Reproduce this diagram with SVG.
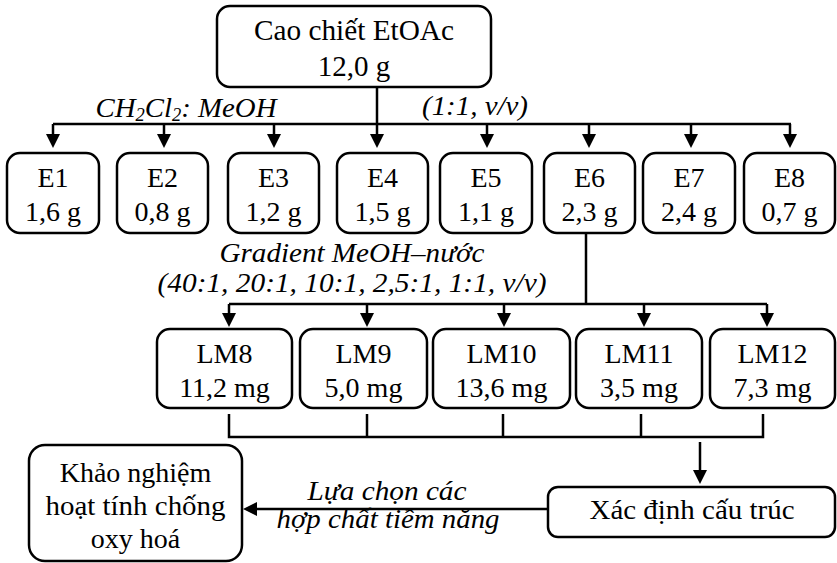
<svg xmlns="http://www.w3.org/2000/svg" width="837" height="563" viewBox="0 0 837 563" font-family="Liberation Serif, Times New Roman, serif">
<style>
.box{fill:#fff;stroke:#000;stroke-width:2.5}
text{font-family:Liberation Serif, serif}
.t{font-size:28px;fill:#000;text-anchor:middle}
.i{font-size:28px;font-style:italic;fill:#000;text-anchor:middle}
.ln{fill:none;stroke:#000;stroke-width:2.5}
</style>
<defs>
<marker id="ah" viewBox="0 0 14 14" refX="10" refY="7" markerWidth="14" markerHeight="14" markerUnits="userSpaceOnUse" orient="auto">
<path d="M0,0 L14,7 L0,14 z" fill="#000"/>
</marker>
</defs>
<g id="connectors">
<path class="ln" d="M377,87 V144" marker-end="url(#ah)"/>
<path class="ln" d="M53,124 H791"/>
<path class="ln" d="M53,124 V144" marker-end="url(#ah)"/>
<path class="ln" d="M164,124 V144" marker-end="url(#ah)"/>
<path class="ln" d="M274,124 V144" marker-end="url(#ah)"/>
<path class="ln" d="M487,124 V144" marker-end="url(#ah)"/>
<path class="ln" d="M589,124 V144" marker-end="url(#ah)"/>
<path class="ln" d="M691,124 V144" marker-end="url(#ah)"/>
<path class="ln" d="M790,124 V144" marker-end="url(#ah)"/>
<path class="ln" d="M586,233 V304"/>
<path class="ln" d="M229,304 H767"/>
<path class="ln" d="M229,304 V323" marker-end="url(#ah)"/>
<path class="ln" d="M367,304 V323" marker-end="url(#ah)"/>
<path class="ln" d="M504,304 V323" marker-end="url(#ah)"/>
<path class="ln" d="M644,304 V323" marker-end="url(#ah)"/>
<path class="ln" d="M767,304 V323" marker-end="url(#ah)"/>
<path class="ln" d="M229,414 V437 H763 V414 M367,414 V437 M503,414 V437 M641,414 V437"/>
<path class="ln" d="M700,442 V480" marker-end="url(#ah)"/>
<path class="ln" d="M548,509 H247" marker-end="url(#ah)"/>
<text class="i" x="186" y="117" textLength="181" lengthAdjust="spacingAndGlyphs">CH<tspan font-size="18" dy="4">2</tspan><tspan dy="-4">Cl</tspan><tspan font-size="18" dy="4">2</tspan><tspan dy="-4">: MeOH</tspan></text>
<text class="i" x="475" y="115" textLength="106" lengthAdjust="spacingAndGlyphs">(1:1, v/v)</text>
<text class="i" x="352" y="262" textLength="265" lengthAdjust="spacingAndGlyphs">Gradient MeOH–nước</text>
<text class="i" x="352" y="292" textLength="389" lengthAdjust="spacingAndGlyphs">(40:1, 20:1, 10:1, 2,5:1, 1:1, v/v)</text>
<text class="i" x="387" y="500" textLength="159" lengthAdjust="spacingAndGlyphs">Lựa chọn các</text>
<text class="i" x="388" y="528" textLength="223" lengthAdjust="spacingAndGlyphs">hợp chất tiềm năng</text>
</g>
<g id="top">
<rect class="box" x="217" y="6" width="274" height="81" rx="13"/>
<text class="t" x="354" y="40" style="font-size:29px" textLength="200" lengthAdjust="spacingAndGlyphs">Cao chiết EtOAc</text>
<text class="t" x="354" y="76" style="font-size:29px">12,0 g</text>
</g>
<g id="E1"><rect class="box" x="7" y="153" width="92" height="80" rx="13"/><text class="t" x="53" y="187">E1</text><text class="t" x="53" y="221">1,6 g</text></g>
<g id="E2"><rect class="box" x="117" y="153" width="91" height="80" rx="13"/><text class="t" x="162.5" y="187">E2</text><text class="t" x="162.5" y="221">0,8 g</text></g>
<g id="E3"><rect class="box" x="228" y="153" width="91" height="80" rx="13"/><text class="t" x="273.5" y="187">E3</text><text class="t" x="273.5" y="221">1,2 g</text></g>
<g id="E4"><rect class="box" x="337" y="153" width="91" height="80" rx="13"/><text class="t" x="382.5" y="187">E4</text><text class="t" x="382.5" y="221">1,5 g</text></g>
<g id="E5"><rect class="box" x="440" y="153" width="92" height="80" rx="13"/><text class="t" x="486" y="187">E5</text><text class="t" x="486" y="221">1,1 g</text></g>
<g id="E6"><rect class="box" x="544" y="153" width="91" height="80" rx="13"/><text class="t" x="589.5" y="187">E6</text><text class="t" x="589.5" y="221">2,3 g</text></g>
<g id="E7"><rect class="box" x="643" y="153" width="92" height="80" rx="13"/><text class="t" x="689" y="187">E7</text><text class="t" x="689" y="221">2,4 g</text></g>
<g id="E8"><rect class="box" x="744" y="153" width="91" height="80" rx="13"/><text class="t" x="789.5" y="187">E8</text><text class="t" x="789.5" y="221">0,7 g</text></g>
<g id="LM8"><rect class="box" x="157" y="329" width="135" height="79" rx="13"/><text class="t" x="224.5" y="363">LM8</text><text class="t" x="224.5" y="397">11,2 mg</text></g>
<g id="LM9"><rect class="box" x="300" y="329" width="127" height="79" rx="13"/><text class="t" x="363.5" y="363">LM9</text><text class="t" x="363.5" y="397">5,0 mg</text></g>
<g id="LM10"><rect class="box" x="433" y="329" width="137" height="79" rx="13"/><text class="t" x="501.5" y="363">LM10</text><text class="t" x="501.5" y="397">13,6 mg</text></g>
<g id="LM11"><rect class="box" x="576" y="329" width="126" height="79" rx="13"/><text class="t" x="639" y="363">LM11</text><text class="t" x="639" y="397">3,5 mg</text></g>
<g id="LM12"><rect class="box" x="710" y="329" width="125" height="79" rx="13"/><text class="t" x="772.5" y="363">LM12</text><text class="t" x="772.5" y="397">7,3 mg</text></g>
<g id="XD"><rect class="box" x="548" y="487" width="287" height="50" rx="10"/><text class="t" x="692" y="519" textLength="205" lengthAdjust="spacingAndGlyphs">Xác định cấu trúc</text></g>
<g id="KN"><rect class="box" x="29" y="445" width="213" height="116" rx="16"/>
<text class="t" x="135.5" y="482">Khảo nghiệm</text>
<text class="t" x="135.5" y="515" textLength="180" lengthAdjust="spacingAndGlyphs">hoạt tính chống</text>
<text class="t" x="135.5" y="548">oxy hoá</text></g>
</svg>
